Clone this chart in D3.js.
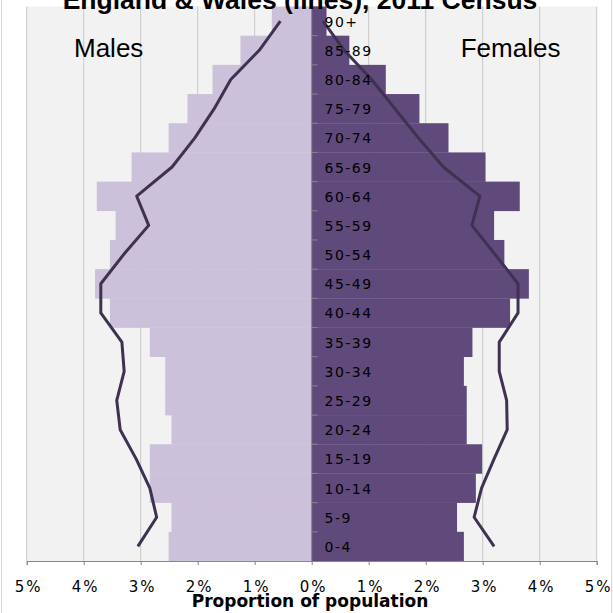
<!DOCTYPE html>
<html>
<head>
<meta charset="utf-8">
<script src="https://cdn.jsdelivr.net/npm/d3@7/dist/d3.min.js"></script>
<style>
  html, body { margin: 0; padding: 0; background: #fff; }
  svg { display: block; }
</style>
</head>
<body>
<svg id="chart" width="613" height="613"></svg>
<script>
// Age groups (bottom to top)
const ageGroups = ["0-4","5-9","10-14","15-19","20-24","25-29","30-34","35-39","40-44","45-49",
                   "50-54","55-59","60-64","65-69","70-74","75-79","80-84","85-89","90+"];
// Bars (percent of population)
const maleBars   = [2.51, 2.46, 2.84, 2.84, 2.46, 2.57, 2.57, 2.84, 3.54, 3.80,
                    3.54, 3.44, 3.77, 3.16, 2.51, 2.18, 1.74, 1.25, 0.70];
const femaleBars = [2.67, 2.55, 2.88, 2.99, 2.72, 2.72, 2.67, 2.82, 3.48, 3.81,
                    3.38, 3.20, 3.65, 3.05, 2.40, 1.89, 1.30, 0.66, 0.26];
// Lines: England & Wales, 2011 Census
const maleLine   = [3.05, 2.72, 2.84, 3.08, 3.36, 3.42, 3.29, 3.33, 3.70, 3.70,
                    3.30, 2.86, 3.07, 2.45, 2.05, 1.71, 1.42, 0.92, 0.55];
const femaleLine = [3.20, 2.85, 2.98, 3.20, 3.43, 3.42, 3.29, 3.29, 3.62, 3.62,
                    3.22, 2.81, 2.95, 2.31, 1.87, 1.46, 1.05, 0.57, 0.20];
// X ticks
const xTicks = [-5,-4,-3,-2,-1,0,1,2,3,4,5];
const xTickLabels = ["5%","4%","3%","2%","1%","0%","1%","2%","3%","4%","5%"];

const titleText = "England & Wales (lines), 2011 Census";
const xAxisTitle = "Proportion of population";

(function () {
const svg = d3.select("#chart");
const pLeft = 26.7, pRight = 596.7, pTop = 6.5, pBottom = 561;

const x = d3.scaleLinear().domain([-5, 5]).range([pLeft, pRight]);
const y = d3.scaleBand().domain(ageGroups.slice().reverse()).range([pTop, pBottom]).padding(0);

// outer border
svg.append("rect").attr("x", 1.5).attr("y", -2).attr("width", 610).attr("height", 620)
  .attr("fill", "#fff").attr("stroke", "#d9d9d9").attr("stroke-width", 1);

// plot background
svg.append("rect").attr("x", pLeft).attr("y", pTop).attr("width", pRight - pLeft).attr("height", pBottom - pTop)
  .attr("fill", "#f2f2f2");

// gridlines
svg.append("g").selectAll("line").data(xTicks.filter(d => d !== 0)).join("line")
  .attr("x1", d => x(d)).attr("x2", d => x(d))
  .attr("y1", pTop).attr("y2", pBottom)
  .attr("stroke", "#c8c8c8").attr("stroke-width", 1);

const rows = ageGroups.map((g, i) => ({
  g, mb: maleBars[i], fb: femaleBars[i], ml: maleLine[i], fl: femaleLine[i]
}));

// male bars
svg.append("g").selectAll("rect").data(rows).join("rect")
  .attr("x", d => x(-d.mb)).attr("y", d => y(d.g))
  .attr("width", d => x(0) - x(-d.mb)).attr("height", y.bandwidth() + 0.3)
  .attr("fill", "#ccc1da");

// female bars
svg.append("g").selectAll("rect").data(rows).join("rect")
  .attr("x", x(0)).attr("y", d => y(d.g))
  .attr("width", d => x(d.fb) - x(0)).attr("height", y.bandwidth() + 0.3)
  .attr("fill", "#604a7b");

// y axis line with ticks at band boundaries
const yAxisG = svg.append("g");
yAxisG.append("line").attr("x1", x(0)).attr("x2", x(0)).attr("y1", pTop).attr("y2", pBottom)
  .attr("stroke", "#868686").attr("stroke-width", 1);
yAxisG.selectAll("line.tk").data(ageGroups).join("line").attr("class", "tk")
  .attr("x1", x(0)).attr("x2", x(0) + 6)
  .attr("y1", d => y(d)).attr("y2", d => y(d))
  .attr("stroke", "#868686").attr("stroke-width", 1);

// lines
const lineGen = d3.line().curve(d3.curveLinear);
const cy = d => y(d.g) + y.bandwidth() / 2;
svg.append("path")
  .attr("d", lineGen(rows.map(d => [x(-d.ml), cy(d)])))
  .attr("fill", "none").attr("stroke", "#3f3151").attr("stroke-width", 3)
  .attr("stroke-linejoin", "round");
svg.append("path")
  .attr("d", lineGen(rows.map(d => [x(d.fl), cy(d)])))
  .attr("fill", "none").attr("stroke", "#3f3151").attr("stroke-width", 3)
  .attr("stroke-linejoin", "round");

// category labels
svg.append("g").selectAll("text").data(ageGroups).join("text")
  .attr("x", 324.5).attr("y", d => y(d) + y.bandwidth() / 2 + 5.5)
  .attr("font-family", "DejaVu Sans, Verdana, sans-serif")
  .attr("font-size", 14).attr("letter-spacing", 1.5)
  .attr("fill", "#000")
  .text(d => d);

// x axis
const xAxis = d3.axisBottom(x).tickValues(xTicks).tickSize(4).tickFormat((d, i) => xTickLabels[i]);
const xg = svg.append("g").attr("transform", `translate(0,${pBottom})`).call(xAxis);
xg.select(".domain").attr("stroke", "#868686");
xg.selectAll(".tick line").attr("stroke", "#868686");
xg.selectAll(".tick text")
  .attr("y", 0).attr("dy", 0)
  .attr("transform", "translate(1.5,30.7)")
  .attr("font-family", "DejaVu Sans, Verdana, sans-serif")
  .attr("font-size", 15).attr("letter-spacing", 2)
  .attr("fill", "#000");

// axis title
svg.append("text").attr("x", 310).attr("y", 606.7).attr("text-anchor", "middle")
  .attr("font-family", "DejaVu Sans, Verdana, sans-serif").attr("font-weight", "bold")
  .attr("font-size", 17).attr("fill", "#000").text(xAxisTitle);

// Males / Females labels
svg.append("text").attr("x", 74).attr("y", 57.3)
  .attr("font-family", "Liberation Sans, Arial, sans-serif").attr("font-size", 26)
  .attr("fill", "#000").text("Males");
svg.append("text").attr("x", 460.7).attr("y", 57.3)
  .attr("font-family", "Liberation Sans, Arial, sans-serif").attr("font-size", 26)
  .attr("fill", "#000").text("Females");

// title
svg.append("text").attr("x", 300).attr("y", 8.5).attr("text-anchor", "middle")
  .attr("font-family", "Liberation Sans, Arial, sans-serif").attr("font-weight", "bold")
  .attr("font-size", 26.5).attr("fill", "#000").text(titleText);
})();
</script>
</body>
</html>
